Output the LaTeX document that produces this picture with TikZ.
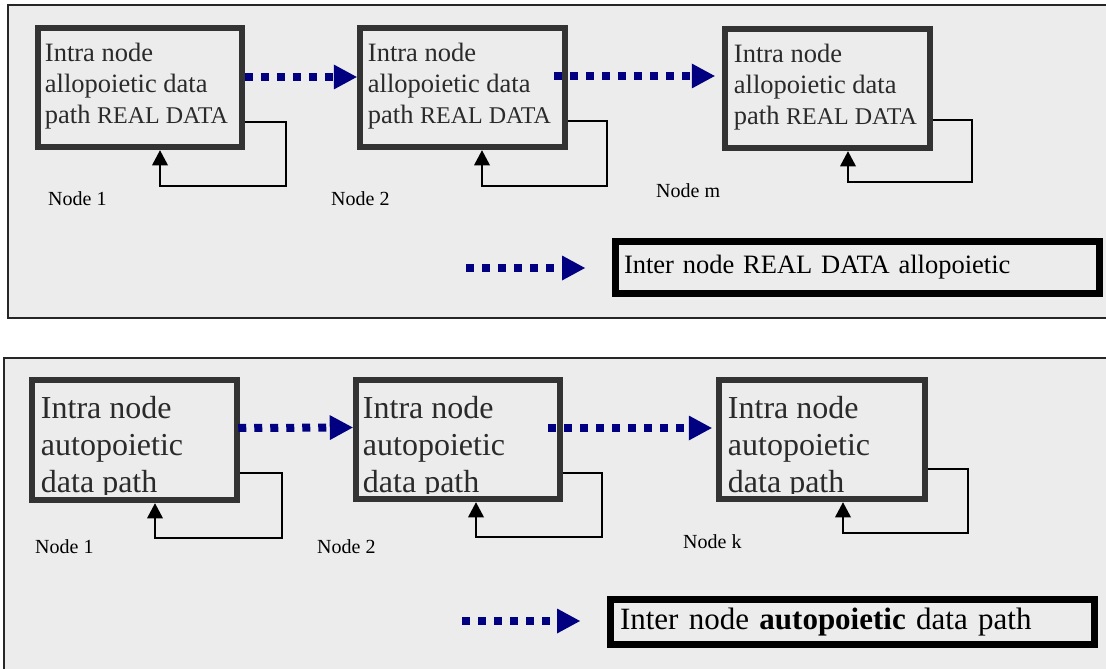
\documentclass[tikz,border=0pt]{standalone}
\usepackage{fontspec}
\setmainfont{Liberation Serif}
\usetikzlibrary{arrows.meta}
\definecolor{panelbg}{HTML}{ECECEC}
\definecolor{boxline}{HTML}{333333}
\definecolor{arrowblue}{HTML}{000080}
\definecolor{boxtext}{HTML}{2A2A2A}
\begin{document}
\begin{tikzpicture}[x=1pt,y=-1pt,
  panel/.style={draw=black!85, line width=2pt, fill=panelbg},
  nodebox/.style={rectangle, draw=boxline, line width=6.5pt, minimum width=#1, inner sep=0pt},
  toptext/.style={anchor=north west, inner sep=0pt, align=left, text=boxtext, font=\fontsize{26.5}{31}\selectfont},
  bottext/.style={anchor=north west, inner sep=0pt, align=left, text=boxtext, font=\fontsize{32}{37}\selectfont},
  nlabel/.style={anchor=base west, inner sep=0pt, font=\fontsize{20}{24}\selectfont},
  legendbox/.style={rectangle, draw=black, line width=7pt, align=left, inner ysep=0pt},
  dotarrow/.style={draw=arrowblue, line width=8pt, dash pattern=on 8pt off 8pt,
    -{Triangle[length=23pt,width=25pt,line width=0pt]}},
  loop/.style={draw=black, line width=1.8pt, line join=miter,
    -{Triangle[length=15pt,width=16pt,line width=0pt]}}
]
\useasboundingbox (0,0) rectangle (1106,669);
\fill[white] (0,0) rectangle (1106,669);

% ---------- top panel ----------
\draw[panel] (8,5) rectangle (1112,318);

\node[nodebox=204pt, minimum height=119pt] (a1) at (140,87.5) {};
\node[nodebox=205pt, minimum height=119pt] (a2) at (462.5,87.5) {};
\node[nodebox=205pt, minimum height=119pt] (a3) at (827.5,88.5) {};

\node[toptext] (ta1) at ([xshift=10pt,yshift=-18pt]a1.north west)
  {Intra node\\allopoietic data\\path {\fontsize{24}{31}\selectfont REAL DATA}};
\node[toptext] (ta2) at ([xshift=11pt,yshift=-18pt]a2.north west)
  {Intra node\\allopoietic data\\path {\fontsize{24}{31}\selectfont REAL DATA}};
\node[toptext] (ta3) at ([xshift=12pt,yshift=-18pt]a3.north west)
  {Intra node\\allopoietic data\\path {\fontsize{24}{31}\selectfont REAL DATA}};

\draw[dotarrow] ([yshift=10.5pt]a1.east) -- ([yshift=10.5pt]a2.west);
\draw[dotarrow] ([xshift=-14pt,yshift=11.5pt]a2.east) -- ([xshift=-7pt,yshift=12.5pt]a3.west);

\draw[loop] ([yshift=-34.5pt]a1.east) -- ++(41,0) -- ++(0,64) -| ([xshift=20pt]a1.south);
\draw[loop] ([yshift=-33.5pt]a2.east) -- ++(39,0) -- ++(0,65) -| ([xshift=19.5pt]a2.south);
\draw[loop] ([yshift=-31.5pt]a3.east) -- ++(39,0) -- ++(0,62) -| ([xshift=20.5pt]a3.south);

\node[nlabel] (na1) at (48,205) {Node 1};
\node[nlabel] (na2) at (331,205) {Node 2};
\node[nlabel] (na3) at (656,197) {Node m};

\node[legendbox, text width=467pt, inner xsep=8.5pt, minimum height=52pt,
  font=\fontsize{26.5}{31}\selectfont] (la) at (857.5,267.5) {Inter node REAL DATA allopoietic};
\coordinate (las) at (466,268);
\draw[dotarrow] (las) -- ([xshift=-27pt]la.west |- las);

% ---------- bottom panel ----------
\draw[panel] (4,358) rectangle (1112,675);

\node[nodebox=205pt, minimum height=120pt] (b1) at (134.5,440) {};
\node[nodebox=204pt, minimum height=119pt] (b2) at (458,439.5) {};
\node[nodebox=206pt, minimum height=119pt] (b3) at (822,439.5) {};

\begin{scope}
\clip ([xshift=3pt,yshift=-3pt]b1.north west) rectangle ([xshift=-3pt,yshift=9pt]b1.south east);
\node[bottext] (tb1) at ([xshift=12pt,yshift=-19pt]b1.north west) {Intra node\\autopoietic\\data path};
\end{scope}
\begin{scope}
\clip ([xshift=3pt,yshift=-3pt]b2.north west) rectangle ([xshift=-3pt,yshift=9pt]b2.south east);
\node[bottext] (tb2) at ([xshift=10pt,yshift=-19pt]b2.north west) {Intra node\\autopoietic\\data path};
\end{scope}
\begin{scope}
\clip ([xshift=3pt,yshift=-3pt]b3.north west) rectangle ([xshift=-3pt,yshift=9pt]b3.south east);
\node[bottext] (tb3) at ([xshift=12pt,yshift=-19pt]b3.north west) {Intra node\\autopoietic\\data path};
\end{scope}
% redraw borders over the clipped text
\node[nodebox=205pt, minimum height=120pt] at (b1) {};
\node[nodebox=204pt, minimum height=119pt] at (b2) {};
\node[nodebox=206pt, minimum height=119pt] at (b3) {};

\draw[dotarrow] ([xshift=-2pt,yshift=12pt]b1.east) -- ([yshift=12pt]b2.west);
\draw[dotarrow] ([xshift=-15pt,yshift=11.5pt]b2.east) -- ([xshift=-4pt,yshift=11.5pt]b3.west);

\draw[loop] ([yshift=-33pt]b1.east) -- ++(42,0) -- ++(0,65) -| ([xshift=20.5pt]b1.south);
\draw[loop] ([yshift=-33.5pt]b2.east) -- ++(39,0) -- ++(0,64) -| ([xshift=18pt]b2.south);
\draw[loop] ([yshift=-29.5pt]b3.east) -- ++(40,0) -- ++(0,64) -| ([xshift=21pt]b3.south);

\node[nlabel] (nb1) at (35,553) {Node 1};
\node[nlabel] (nb2) at (317,553) {Node 2};
\node[nlabel] (nb3) at (683,548) {Node k};

\node[legendbox, text width=465pt, inner xsep=9.5pt, minimum height=45pt,
  font=\fontsize{31}{36}\selectfont] (lb) at (852.5,622) {Inter node \textbf{autopoietic} data path};
\coordinate (lbs) at (462,621);
\draw[dotarrow] (lbs) -- ([xshift=-27pt]lb.west |- lbs);
\end{tikzpicture}
\end{document}
